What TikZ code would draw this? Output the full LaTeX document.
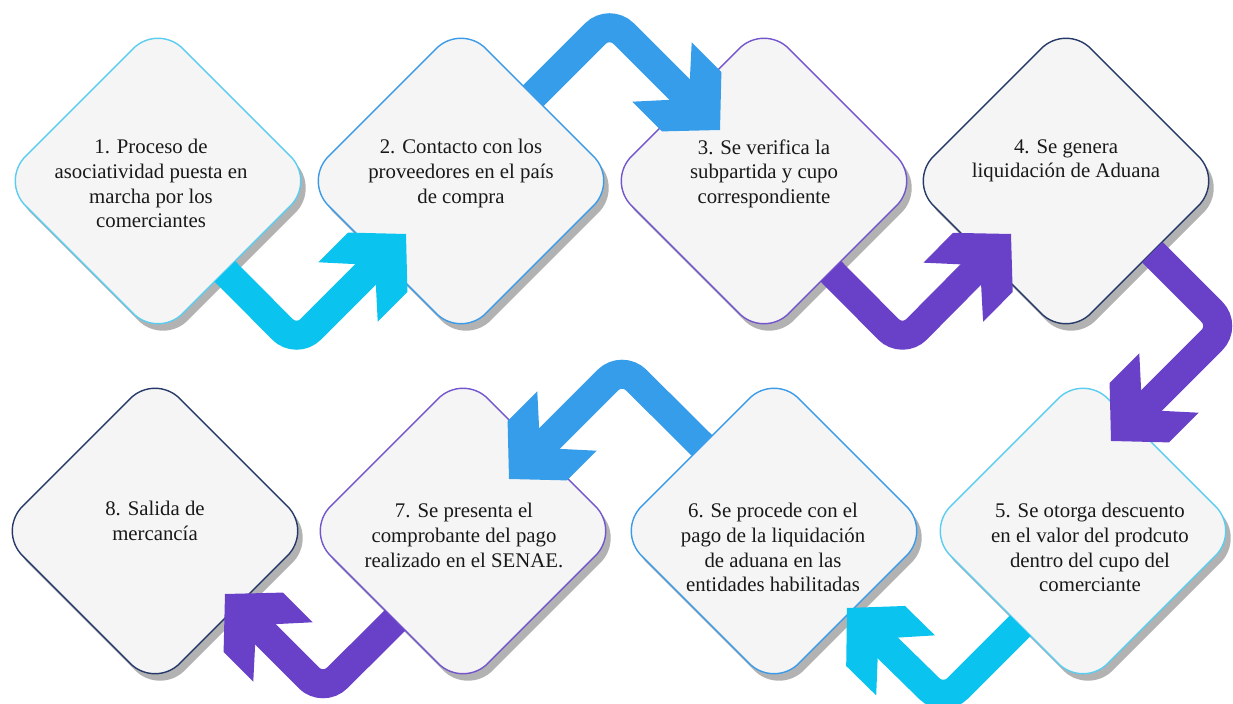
\documentclass[tikz,border=0pt]{standalone}
\usepackage{fontspec}
\setmainfont{Liberation Serif}
\usetikzlibrary{shapes.geometric,shadows,arrows.meta,calc}
\definecolor{arrowcyan}{RGB}{10,195,238}
\definecolor{arrowblue}{RGB}{54,157,235}
\definecolor{arrowpurple}{RGB}{105,64,200}
\definecolor{linecyan}{RGB}{90,205,240}
\definecolor{lineblue}{RGB}{60,155,232}
\definecolor{linepurple}{RGB}{115,85,205}
\definecolor{linenavy}{RGB}{38,58,105}
\definecolor{boxfill}{RGB}{245,245,245}
\pgfdeclarearrow{
	name = StepHead,
	setup code = {
		\pgfarrowssettipend{0pt}
		\pgfarrowssetlineend{-16pt}
		\pgfarrowssetbackend{-41pt}
	},
	drawing code = {
		\pgfsetcornersarced{\pgfpointorigin}
		\pgfpathmoveto{\pgfpoint{0pt}{0pt}}
		\pgfpathlineto{\pgfpoint{-20pt}{21pt}}
		\pgfpathlineto{\pgfpoint{-41pt}{21pt}}
		\pgfpathlineto{\pgfpoint{-22pt}{0pt}}
		\pgfpathlineto{\pgfpoint{-41pt}{-21pt}}
		\pgfpathlineto{\pgfpoint{-20pt}{-21pt}}
		\pgfpathclose
		\pgfusepathqfill
	}
}
\tikzset{
	stepbox/.style={diamond, aspect=1, minimum size=157.5pt, inner sep=0pt, rounded corners=17.5pt, fill=boxfill, line width=0.7pt,
		drop shadow={shadow xshift=2.5pt, shadow yshift=-3.5pt, fill=black!60, opacity=0.5}},
	steptext/.style={anchor=north, align=center, inner sep=0pt, text=black!90, font=\fontsize{10.4}{12.35}\selectfont},
	steparrow/.style={line width=14.5pt, rounded corners=10pt, -{StepHead}}
}
\begin{document}
\begin{tikzpicture}[x=0.5pt, y=-0.5pt]
		\useasboundingbox (0,0) rectangle (1233,704);
		
		\node[stepbox, draw=linecyan]   (d1) at (158,181) {};
		\node[stepbox, draw=lineblue]   (d2) at (461,181) {};
		\node[stepbox, draw=linepurple] (d3) at (764,181) {};
		\node[stepbox, draw=linenavy]   (d4) at (1066,181) {};
		\node[stepbox, draw=linecyan]   (d5) at (1083,531) {};
		\node[stepbox, draw=lineblue]   (d6) at (774,531) {};
		\node[stepbox, draw=linepurple] (d7) at (463,531) {};
		\node[stepbox, draw=linenavy]   (d8) at (155,531) {};
		
		\node[steptext] (t1) at (151,139) {1. Proceso de\\asociatividad puesta en\\marcha por los\\comerciantes};
		\node[steptext] (t2) at (461,139) {2. Contacto con los\\proveedores en el país\\de compra};
		\node[steptext] (t3) at (764,139) {3. Se verifica la\\subpartida  y cupo\\correspondiente};
		\node[steptext] (t4) at (1066,139) {4. Se genera\\liquidación de Aduana};
		\node[steptext] (t5) at (1090,503) {5. Se otorga descuento\\en el valor del prodcuto\\dentro del cupo del\\comerciante};
		\node[steptext] (t6) at (773,503) {6. Se procede con el\\pago de la liquidación\\de aduana en las\\entidades habilitadas};
		\node[steptext] (t7) at (464,503) {7. Se presenta el\\comprobante del pago\\realizado en el SENAE.};
		\node[steptext] (t8) at (155,501) {8. Salida de\\mercancía};
		
		\draw[steparrow, arrowcyan]   ($(d1)+(67,90.5)$) -- ++(71.5,72) -- ($(d2)+(-55,53)$);
		\draw[steparrow, arrowblue]   ($(d2)+(72.25,-85.25)$) -- ++(76.25,-76.25) -- ($(d3)+(-44,-51)$);
		\draw[steparrow, arrowpurple] ($(d3)+(67,90.5)$) -- ++(71.5,72) -- ($(d4)+(-55,53)$);
		\draw[steparrow, arrowpurple] ($(d4)+(86.25,71.25)$) -- ++(73.75,73.75) -- ($(d5)+(28,-90)$);
		\draw[steparrow, arrowcyan]   ($(d5)+(-62.75,94.75)$) -- ++(-76.75,76.75) -- ($(d6)+(73,77)$);
		\draw[steparrow, arrowblue]   ($(d6)+(-72,-85.5)$) -- ++(-80,-79.5) -- ($(d7)+(46,-52)$);
		\draw[steparrow, arrowpurple] ($(d7)+(-68,89.5)$) -- ++(-72,71.5) -- ($(d8)+(70,63)$);
\end{tikzpicture}
\end{document}
